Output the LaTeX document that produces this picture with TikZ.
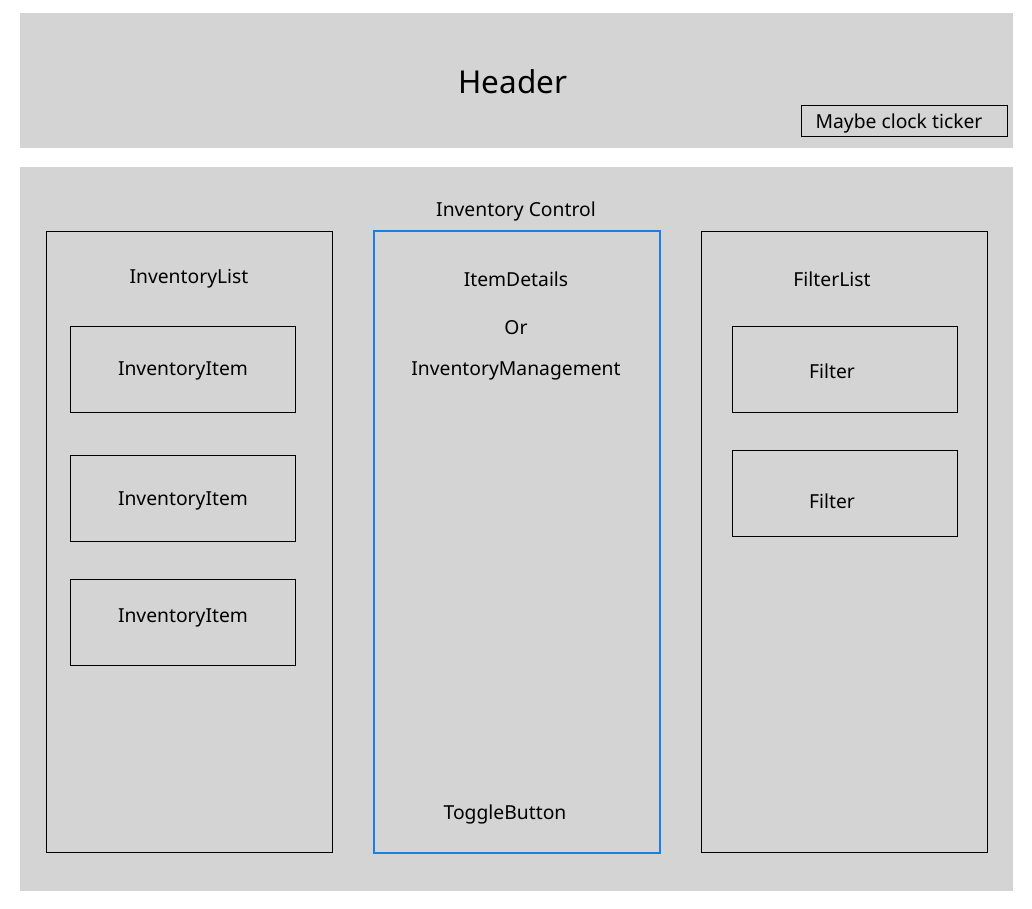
\documentclass[tikz,border=0pt]{standalone}
\usepackage{fontspec}
\setmainfont{Noto Sans}
\usepackage{xcolor}
\definecolor{panelGray}{RGB}{212, 212, 212}
\definecolor{selBlue}{RGB}{24, 128, 228}
\usetikzlibrary{positioning, calc}
\tikzset{
    panel/.style={fill=panelGray, draw=none, inner sep=0pt, outer sep=0pt},
    frame/.style={draw=black, line width=1pt, inner sep=0pt, outer sep=0pt},
    itemBox/.style={frame, minimum width=225pt, minimum height=86pt},
    colBox/.style={frame, minimum width=286pt, minimum height=621pt},
    txt/.style={font=\fontsize{19.3}{23}\selectfont, inner sep=0pt, yshift=-2pt}
}

\begin{document}
\begin{tikzpicture}[x=1pt, y=-1pt]
    \useasboundingbox (0,0) rectangle (1032,908);

    % --- HEADER ---
    \node[panel, minimum width=993pt, minimum height=135pt] (header) at (516.5,80.5) {};
    \node[txt, font=\fontsize{31.5}{36}\selectfont] (headerText) at (513,80) {Header};
    \node[frame, minimum width=206pt, minimum height=31pt] (clock) at (904,120.5) {};
    \node[txt] (clockText) at (899,121) {Maybe clock ticker};

    % --- MAIN AREA ---
    \node[panel, minimum width=993pt, minimum height=724pt] (main) at (516.5,529) {};
    \node[txt] (mainText) at (516,209) {Inventory Control};

    % left column
    \node[colBox] (invList) at (189,541.5) {};
    \node[txt] (invListText) at (189,277) {InventoryList};
    \node[itemBox] (item1) at (182.5,369) {};
    \node[itemBox] (item2) at (182.5,498) {};
    \node[itemBox] (item3) at (182.5,622) {};
    \node[txt] at (183,369) {InventoryItem};
    \node[txt] at (183,499) {InventoryItem};
    \node[txt] at (183,616) {InventoryItem};

    % middle column
    \node[colBox, draw=selBlue, line width=2pt, minimum height=622pt] (details) at (516.5,542) {};
    \node[txt] (detailsText) at (516,277) {ItemDetails};
    \node[txt] (orText) at (516,326) {Or};
    \node[txt] (mgmtText) at (516,369) {InventoryManagement};
    \node[txt] (toggleText) at (505,812) {ToggleButton};

    % right column
    \node[colBox] (filterList) at (844,541.5) {};
    \node[txt] (filterListText) at (832,277) {FilterList};
    \node[itemBox] (filter1) at (844.5,369) {};
    \node[itemBox] (filter2) at (844.5,493) {};
    \node[txt] at (832,369) {Filter};
    \node[txt] at (832,499) {Filter};
\end{tikzpicture}
\end{document}
